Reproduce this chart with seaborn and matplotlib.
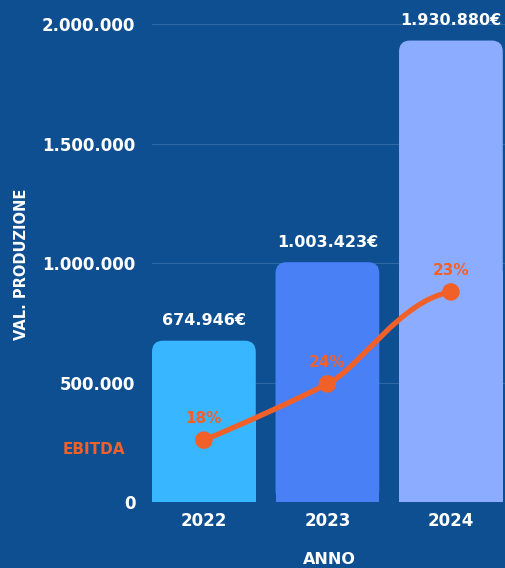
import numpy as np
import pandas as pd
import matplotlib
matplotlib.use('Agg')
import matplotlib.pyplot as plt
import seaborn as sns
from matplotlib.patches import FancyBboxPatch, Rectangle, PathPatch
from matplotlib.path import Path

# data
anni = ['2022', '2023', '2024']
produzione = [674946, 1003423, 1930880]
produzione_label = ['674.946€', '1.003.423€', '1.930.880€']
ebitda = [259000, 494000, 879000]
ebitda_pct = ['18%', '24%', '23%']
yticks = [0, 500000, 1000000, 1500000, 2000000]
ytick_labels = ['0', '500.000', '1.000.000', '1.500.000', '2.000.000']

BG = '#0e4f91'
GRID = '#3068a5'
ORANGE = '#f2602a'
bar_colors = ['#38b6ff', '#4a80f5', '#8cadff']
W = 'bold'

sns.set_theme(style='white')
plt.rcParams['font.family'] = ['DejaVu Sans']

fig = plt.figure(figsize=(5.06, 5.68), dpi=100, facecolor=BG)
ax = fig.add_axes([0.3004, 0.1162, 0.6996, 0.8415], facecolor=BG)

df = pd.DataFrame({'anno': anni, 'val': produzione})
sns.barplot(data=df, x='anno', y='val', hue='anno', palette=bar_colors,
            width=0.84, legend=False, ax=ax, zorder=2)

ax.set_xlim(-0.42, 2.446)
ax.set_ylim(0, 2000000)

# px -> data scale, used for rounded corners
x_per_px = (2.446 + 0.42) / (0.6996 * 506)
y_per_px = 2000000 / (0.8415 * 568)
r = 11 * x_per_px

# replace plain bars with rounded-top bars
for p, c in zip(list(ax.patches), bar_colors):
    x0, w, h = p.get_x(), p.get_width(), p.get_height()
    p.remove()
    ax.add_patch(FancyBboxPatch((x0, 0), w, h,
                                boxstyle=f'round,pad=0,rounding_size={r}',
                                mutation_aspect=y_per_px / x_per_px,
                                fc=c, ec='none', zorder=2))
    ax.add_patch(Rectangle((x0, 0), w, h / 2, fc=c, ec='none', zorder=2))

for i, (v, lab) in enumerate(zip(produzione, produzione_label)):
    ax.annotate(lab, (i, v), xytext=(0, 9), textcoords='offset points',
                ha='center', va='bottom', color='white', fontsize=11.5,
                fontweight=W, annotation_clip=False)

# smooth EBITDA line as bezier segments
xs = np.arange(len(ebitda))
verts = [(xs[0], ebitda[0])]
ctrl = [((0.33, 0.30), (0.31, 0.34)), ((0.26, 0.17), (0.41, 0.09))]
for i, (a, b) in enumerate(ctrl):
    dx = xs[i + 1] - xs[i]
    dy = ebitda[i + 1] - ebitda[i]
    verts += [(xs[i] + a[0] * dx, ebitda[i] + a[1] * dy),
              (xs[i + 1] - b[0] * dx, ebitda[i + 1] - b[1] * dy),
              (xs[i + 1], ebitda[i + 1])]
codes = [Path.MOVETO] + [Path.CURVE4] * (len(verts) - 1)
ax.add_patch(PathPatch(Path(verts, codes), fc='none', ec=ORANGE, lw=3.8,
                       capstyle='round', zorder=3))
sns.scatterplot(x=xs, y=ebitda, color=ORANGE, s=160, edgecolor='none',
                ax=ax, zorder=4)
for i, (v, lab) in enumerate(zip(ebitda, ebitda_pct)):
    ax.annotate(lab, (i, v), xytext=(0, 10), textcoords='offset points',
                ha='center', va='bottom', color=ORANGE, fontsize=11,
                fontweight=W)

ax.set_yticks(yticks)
ax.set_yticklabels(ytick_labels)
ax.yaxis.grid(True, color=GRID, lw=0.8, zorder=0)
ax.set_axisbelow(True)
ax.tick_params(axis='y', length=0, pad=12, colors='white', labelsize=12)
ax.tick_params(axis='x', length=0, pad=7, colors='white', labelsize=12)
for lab in ax.get_xticklabels() + ax.get_yticklabels():
    lab.set_fontweight(W)
for s in ax.spines.values():
    s.set_visible(False)

ax.set_xlabel('')
ax.set_ylabel('')
fig.text(329 / 506, 1 - 567 / 568, 'ANNO', color='white', fontsize=11.5,
         fontweight=W, ha='center', va='bottom')
fig.text(22 / 506, 1 - 264 / 568, 'VAL. PRODUZIONE', rotation=90, color='white',
         fontsize=10.5, fontweight=W, ha='center', va='center')
fig.text(94 / 506, 1 - 450 / 568, 'EBITDA', color=ORANGE, fontsize=11,
         fontweight=W, ha='center', va='center')

fig.savefig('out.png', dpi=100, facecolor=BG)
